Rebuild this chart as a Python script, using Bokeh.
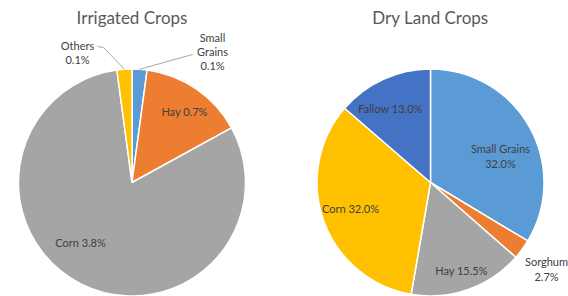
import numpy as np
from bokeh.plotting import figure
from bokeh.models import Range1d, ColumnDataSource
from bokeh.core.properties import value
from bokeh.embed import file_html
from bokeh.resources import INLINE

# ---- data ----
irr_categories = ["Small Grains", "Hay", "Corn", "Others"]
irr_values = [0.1, 0.7, 3.8, 0.1]
dry_categories = ["Small Grains", "Sorghum", "Hay", "Corn", "Fallow"]
dry_values = [32.0, 2.7, 15.5, 32.0, 13.0]
titles = ["Irrigated Crops", "Dry Land Crops"]

# ---- styles ----
BLUE, ORANGE, GRAY, GOLD, DBLUE = "#5B9BD5", "#ED7D31", "#A5A5A5", "#FFC000", "#4472C4"
irr_colors = [BLUE, ORANGE, GRAY, GOLD]
dry_colors = [BLUE, ORANGE, GRAY, GOLD, DBLUE]
FONT = "Lato"
TXT = "#404040"

W, H = 568, 296


def Y(py):  # page pixel y -> data y
    return H - py


p = figure(width=W, height=H, output_backend="svg", toolbar_location=None,
           x_range=Range1d(0, W), y_range=Range1d(0, H),
           min_border=0, min_border_left=0, min_border_right=0,
           min_border_top=0, min_border_bottom=0)
p.xaxis.visible = False
p.yaxis.visible = False
p.grid.visible = False
p.outline_line_color = None
p.background_fill_color = "white"
p.border_fill_color = "white"

R = 113.5
centers = [(131.5, 182), (430, 182)]


def draw_pie(vals, cats, cols, cx, cy):
    v = np.array(vals, dtype=float)
    frac = v / v.sum()
    after = np.cumsum(frac)
    before = after - frac
    src = ColumnDataSource(dict(
        x=[cx] * len(v), y=[Y(cy)] * len(v),
        start=(np.pi / 2 - after * 2 * np.pi).tolist(),
        end=(np.pi / 2 - before * 2 * np.pi).tolist(),
        color=cols, cat=cats))
    p.wedge(x="x", y="y", radius=R, start_angle="start", end_angle="end",
            direction="anticlock", fill_color="color", line_color="white",
            line_width=1.5, source=src)
    return (before + after) / 2 * 2 * np.pi  # clockwise from 12 o'clock


irr_mid = draw_pie(irr_values, irr_categories, irr_colors, *centers[0])
dry_mid = draw_pie(dry_values, dry_categories, dry_colors, *centers[1])


def pct(v):
    return f"{v:.1f}%"


irr_lbl = dict(zip(irr_categories, irr_values))
dry_lbl = dict(zip(dry_categories, dry_values))

labels = [
    # (lines, x, first-line y, line step)  in page px
    (["Small", "Grains", pct(irr_lbl["Small Grains"])], 212, 37, 14),
    (["Hay " + pct(irr_lbl["Hay"])], 184, 111, 14),
    (["Corn " + pct(irr_lbl["Corn"])], 80, 242, 14),
    (["Others", pct(irr_lbl["Others"])], 77, 45, 14),
    (["Small Grains", pct(dry_lbl["Small Grains"])], 500, 148, 15),
    (["Sorghum", pct(dry_lbl["Sorghum"])], 546, 261, 15),
    (["Hay " + pct(dry_lbl["Hay"])], 461, 270, 15),
    (["Corn " + pct(dry_lbl["Corn"])], 350, 208, 15),
    (["Fallow " + pct(dry_lbl["Fallow"])], 390, 108, 15),
]
tx, ty, tt = [], [], []
for lines, x, y0, step in labels:
    for i, s in enumerate(lines):
        tx.append(x)
        ty.append(Y(y0 + i * step))
        tt.append(s)
p.text(x=tx, y=ty, text=tt, text_font=value(FONT), text_font_size="11px",
       text_color=TXT, text_align="center", text_baseline="middle")

# leader lines for the two small irrigated slices
cx, cy = centers[0]
sg = irr_mid[0]
ot = irr_mid[3]
p.line(x=[cx + R * np.sin(sg), 192], y=[Y(cy - R * np.cos(sg)), Y(54)],
       line_color="#A6A6A6", line_width=1)
p.line(x=[cx + R * np.sin(ot), 103, 97], y=[Y(cy - R * np.cos(ot)), Y(47), Y(46)],
       line_color="#A6A6A6", line_width=1)

# titles
p.text(x=[centers[0][0], centers[1][0]], y=[Y(17), Y(17)], text=titles,
       text_font=value(FONT), text_font_size="17px", text_color="#595959",
       text_align="center", text_baseline="middle")

open("out.html", "w").write(file_html(p, INLINE))
